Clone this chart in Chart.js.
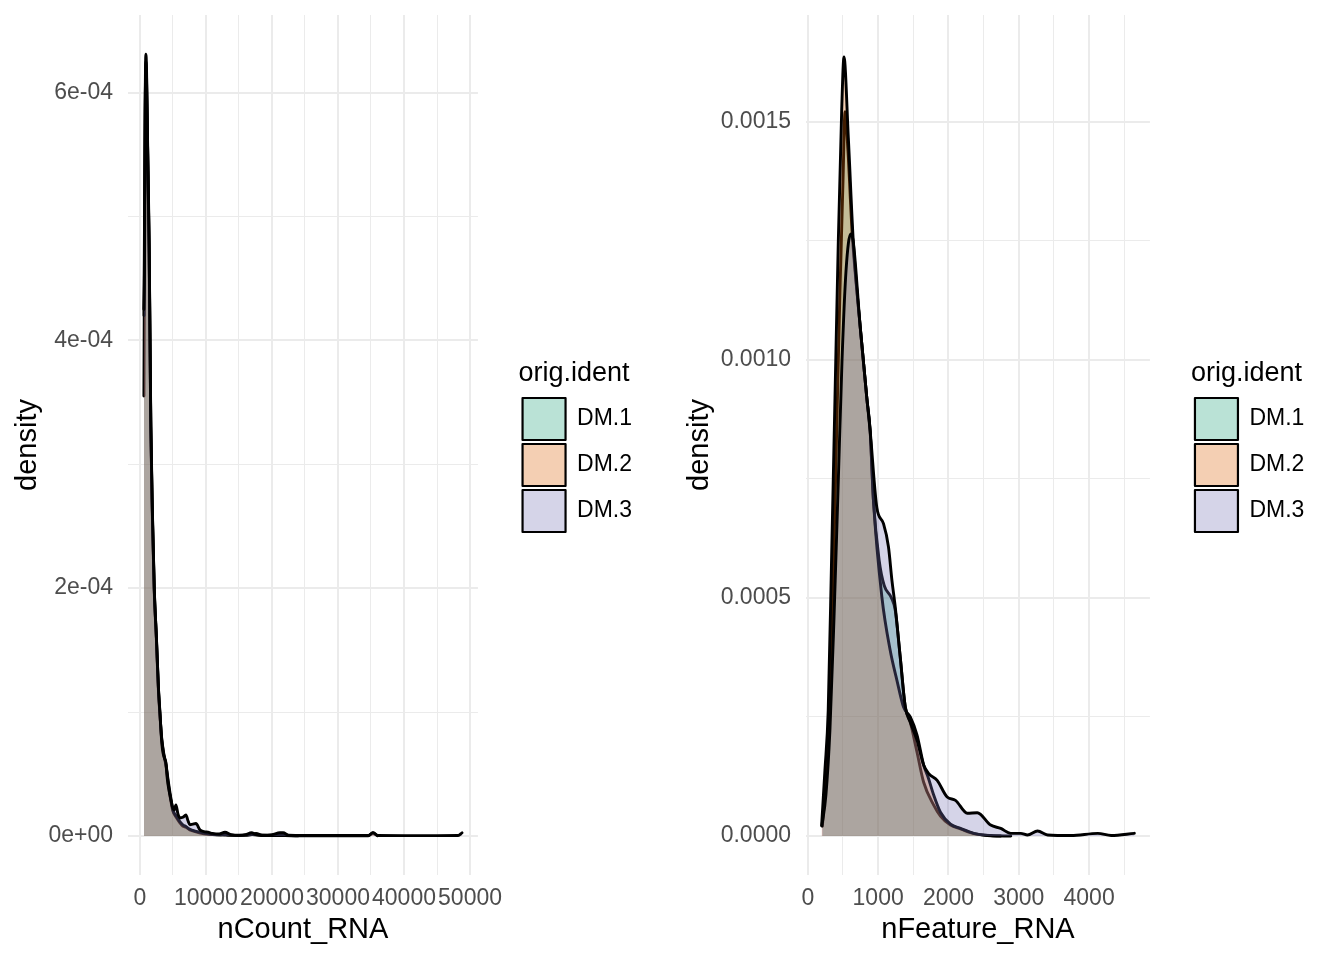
<!DOCTYPE html>
<html><head><meta charset="utf-8">
<script src="https://cdn.jsdelivr.net/npm/chart.js@4.4.1/dist/chart.umd.min.js"></script>
<style>
html,body{margin:0;padding:0;background:#fff;}
#wrap{display:flex;width:1344px;height:960px;}
canvas{display:block;}
</style></head><body>
<div id="wrap"><canvas id="c1" width="672" height="960"></canvas><canvas id="c2" width="672" height="960"></canvas></div>
<script>
const groups = ['DM.1', 'DM.2', 'DM.3'];
const fillColors = ['rgba(27,158,119,0.3)', 'rgba(217,95,2,0.3)', 'rgba(117,112,179,0.3)'];

// nCount_RNA densities
const countX_DM1 = [606, 700, 800, 900, 1000, 1150, 1400, 1650, 1900, 2170, 2500, 2800, 3030, 3300, 3600, 3940, 4300, 4700, 5000, 5500, 6000, 6500, 7000, 7500, 8000, 9000, 10000, 11000, 12000, 13000, 14000, 15000, 16500, 17600, 18500, 20000, 21200, 22500, 24000];
const countY_DM1 = [3.55e-4, 4.8e-4, 5.9e-4, 6.31e-4, 6.2e-4, 5.65e-4, 4.8e-4, 3.3e-4, 2.55e-4, 1.98e-4, 1.58e-4, 1.18e-4, 0.98e-4, 0.78e-4, 0.66e-4, 0.57e-4, 0.42e-4, 0.28e-4, 0.2e-4, 0.15e-4, 0.11e-4, 0.08e-4, 0.07e-4, 0.05e-4, 0.04e-4, 0.025e-4, 0.015e-4, 0.01e-4, 0.008e-4, 0.012e-4, 0.006e-4, 0.004e-4, 0.01e-4, 0.02e-4, 0.005e-4, 0.004e-4, 0.02e-4, 0.004e-4, 0.001e-4];
const countX_DM2 = [620, 700, 800, 900, 1000, 1150, 1400, 1650, 1900, 2170, 2500, 2800, 3030, 3300, 3600, 3940, 4300, 4700, 5000, 5500, 6000, 6500, 7000, 7500, 8000, 9000, 10000, 11000, 12000, 13000, 14500, 16000, 17000, 18500, 20000, 22000, 24000, 28000, 34600, 35300, 36000];
const countY_DM2 = [4.2e-4, 5.0e-4, 5.85e-4, 6.2e-4, 6.1e-4, 5.6e-4, 4.7e-4, 3.3e-4, 2.58e-4, 2.0e-4, 1.6e-4, 1.2e-4, 0.99e-4, 0.79e-4, 0.67e-4, 0.58e-4, 0.44e-4, 0.3e-4, 0.21e-4, 0.16e-4, 0.12e-4, 0.09e-4, 0.075e-4, 0.055e-4, 0.045e-4, 0.03e-4, 0.02e-4, 0.012e-4, 0.008e-4, 0.006e-4, 0.004e-4, 0.004e-4, 0.01e-4, 0.003e-4, 0.002e-4, 0.002e-4, 0.001e-4, 0.001e-4, 0.001e-4, 0.025e-4, 0.001e-4];
const countX_DM3 = [600, 700, 800, 900, 1000, 1150, 1400, 1650, 1900, 2170, 2500, 2800, 3030, 3250, 3440, 3700, 3940, 4150, 4400, 4700, 4955, 5200, 5455, 5750, 6060, 6500, 6970, 7300, 7575, 8000, 8485, 9090, 9700, 10300, 11000, 12000, 12880, 13800, 15000, 16000, 16900, 17600, 18500, 20000, 21200, 21700, 22500, 25000, 30000, 34600, 35300, 36000, 40000, 45000, 48200, 48790];
const countY_DM3 = [4.25e-4, 4.6e-4, 5.8e-4, 6.25e-4, 6.15e-4, 5.6e-4, 4.75e-4, 3.35e-4, 2.6e-4, 2.0e-4, 1.6e-4, 1.2e-4, 1.0e-4, 0.8e-4, 0.69e-4, 0.63e-4, 0.59e-4, 0.46e-4, 0.37e-4, 0.29e-4, 0.23e-4, 0.21e-4, 0.25e-4, 0.18e-4, 0.145e-4, 0.15e-4, 0.17e-4, 0.12e-4, 0.09e-4, 0.095e-4, 0.10e-4, 0.05e-4, 0.035e-4, 0.03e-4, 0.02e-4, 0.015e-4, 0.03e-4, 0.01e-4, 0.005e-4, 0.01e-4, 0.025e-4, 0.01e-4, 0.005e-4, 0.01e-4, 0.025e-4, 0.025e-4, 0.005e-4, 0.003e-4, 0.003e-4, 0.003e-4, 0.025e-4, 0.003e-4, 0.002e-4, 0.002e-4, 0.003e-4, 0.025e-4];

// nFeature_RNA densities
const featX_DM1 = [207, 257, 307, 357, 407, 457, 500, 529, 571, 629, 743, 839, 886, 933, 1014, 1086, 1186, 1243, 1314, 1386, 1457, 1553, 1647, 1790, 1886, 2029, 2171, 2361, 2600, 2886];
const featY_DM1 = [0.21e-4, 1.17e-4, 2.43e-4, 5.16e-4, 8.30e-4, 11.45e-4, 13.75e-4, 15.21e-4, 14.38e-4, 12.70e-4, 10.72e-4, 9.19e-4, 8.51e-4, 7.04e-4, 5.79e-4, 5.26e-4, 5.01e-4, 4.74e-4, 3.75e-4, 2.71e-4, 2.39e-4, 1.76e-4, 1.13e-4, 0.65e-4, 0.42e-4, 0.23e-4, 0.15e-4, 0.052e-4, 0.01e-4, 0];
const featX_DM2 = [196, 243, 290, 339, 386, 433, 481, 514, 576, 647, 743, 839, 886, 933, 1053, 1171, 1267, 1361, 1457, 1553, 1647, 1714, 1790, 1886, 2029, 2171, 2361, 2553, 2743];
const featY_DM2 = [0.22e-4, 1.38e-4, 2.64e-4, 5.91e-4, 9.19e-4, 12.47e-4, 15.21e-4, 16.36e-4, 14.66e-4, 12.47e-4, 10.72e-4, 9.19e-4, 8.51e-4, 7.04e-4, 5.02e-4, 3.90e-4, 3.27e-4, 2.71e-4, 2.50e-4, 2.12e-4, 1.49e-4, 1.22e-4, 0.86e-4, 0.50e-4, 0.25e-4, 0.16e-4, 0.057e-4, 0.01e-4, 0];
const featX_DM3 = [200, 257, 314, 371, 429, 486, 543, 610, 647, 743, 839, 886, 981, 1076, 1147, 1196, 1243, 1314, 1386, 1457, 1553, 1647, 1719, 1839, 1981, 2100, 2267, 2410, 2600, 2743, 2886, 3029, 3124, 3267, 3410, 3743, 4124, 4314, 4643];
const featY_DM3 = [0.21e-4, 0.86e-4, 2.22e-4, 4.53e-4, 7.25e-4, 9.98e-4, 11.87e-4, 12.64e-4, 12.47e-4, 10.72e-4, 9.19e-4, 8.51e-4, 6.90e-4, 6.56e-4, 6.07e-4, 5.37e-4, 4.81e-4, 3.76e-4, 2.71e-4, 2.39e-4, 2.01e-4, 1.49e-4, 1.31e-4, 1.17e-4, 0.82e-4, 0.75e-4, 0.48e-4, 0.49e-4, 0.23e-4, 0.16e-4, 0.057e-4, 0.057e-4, 0.021e-4, 0.105e-4, 0.021e-4, 0.01e-4, 0.057e-4, 0.01e-4, 0.057e-4];

// ticks
const countXTicks = [0, 5000, 10000, 15000, 20000, 25000, 30000, 35000, 40000, 45000, 50000];
const countXLabels = ['0', '', '10000', '', '20000', '', '30000', '', '40000', '', '50000'];
const countYTicks = [0, 1e-4, 2e-4, 3e-4, 4e-4, 5e-4, 6e-4];
const countYLabels = ['0e+00', '', '2e-04', '', '4e-04', '', '6e-04'];
const featXTicks = [0, 500, 1000, 1500, 2000, 2500, 3000, 3500, 4000, 4500];
const featXLabels = ['0', '', '1000', '', '2000', '', '3000', '', '4000', ''];
const featYTicks = [0, 0.00025, 0.0005, 0.00075, 0.001, 0.00125, 0.0015];
const featYLabels = ['0.0000', '', '0.0005', '', '0.0010', '', '0.0015'];

const FAMILY = "'Liberation Sans', Arial, Helvetica, sans-serif";
Chart.defaults.font.family = FAMILY;

function gridOpts(labels) {
  return {
    color: '#EBEBEB',
    drawTicks: false,
    lineWidth: (c) => (c.tick && labels[c.index] !== '') ? 2 : 1
  };
}

function makeChart(id, cfg) {
  const datasets = groups.map((g, i) => ({
    label: g,
    data: cfg.xs[i].map((x, j) => ({x: x, y: cfg.ys[i][j]})),
    xAxisID: 'x', yAxisID: 'y',
    borderColor: '#000000', borderWidth: 2.9,
    backgroundColor: fillColors[i],
    fill: 'origin', pointRadius: 0, pointHoverRadius: 0,
    cubicInterpolationMode: 'monotone',
    borderJoinStyle: 'round', borderCapStyle: 'round',
    order: groups.length - i
  }));
  return new Chart(document.getElementById(id), {
    type: 'line',
    data: {datasets},
    options: {
      responsive: false, animation: false, devicePixelRatio: 1,
      layout: {autoPadding: false, padding: {top: 15, bottom: 0, left: 0, right: cfg.padRight}},
      plugins: {
        tooltip: {enabled: false},
        legend: {
          position: 'right', align: 'start', reverse: true, maxWidth: 300,
          title: {display: true, text: 'orig.ident', position: 'start', color: '#000',
                  font: {size: 27, family: FAMILY}, padding: {top: 345, bottom: 1.6}},
          labels: {boxWidth: 43, boxHeight: 42, padding: 4, color: '#000',
                   font: {size: 23, family: FAMILY},
                   generateLabels: (chart) => Chart.defaults.plugins.legend.labels.generateLabels(chart)
                     .map(l => Object.assign({}, l, {lineWidth: 2.2}))}
        }
      },
      scales: {
        x: {
          type: 'linear', position: 'bottom', min: cfg.xMin, max: cfg.xMax,
          afterBuildTicks: (s) => { s.ticks = cfg.xTicks.map(v => ({value: v})); },
          afterFit: (s) => { s.height = 85; s.paddingLeft = 0; s.paddingRight = 0; },
          grid: gridOpts(cfg.xLabels),
          border: {display: false},
          ticks: {autoSkip: false, maxRotation: 0, minRotation: 0, padding: 10, color: '#4D4D4D',
                  font: {size: 23, family: FAMILY}, callback: (v, i) => cfg.xLabels[i]},
          title: {display: true, text: cfg.xTitle, color: '#000', font: {size: 29, family: FAMILY},
                  padding: {top: 0, bottom: 12.6}}
        },
        y: {
          type: 'linear', position: 'left', min: cfg.yMin, max: cfg.yMax,
          afterBuildTicks: (s) => { s.ticks = cfg.yTicks.map(v => ({value: v})); },
          afterFit: (s) => { s.width = cfg.left; s.paddingTop = 0; s.paddingBottom = 0; },
          grid: gridOpts(cfg.yLabels),
          border: {display: false},
          ticks: {autoSkip: false, padding: 15, color: '#4D4D4D',
                  font: {size: 23, family: FAMILY}, callback: (v, i) => cfg.yLabels[i]},
          title: {display: true, text: 'density', color: '#000', font: {size: 29, family: FAMILY},
                  padding: {top: 10.6, bottom: 0}}
        },
        yPad: {
          type: 'linear', position: 'right', display: true,
          grid: {display: false, drawTicks: false}, border: {display: false},
          ticks: {display: false},
          afterFit: (s) => { s.width = cfg.gap; s.paddingTop = 0; s.paddingBottom = 0; }
        }
      }
    }
  });
}

makeChart('c1', {
  xs: [countX_DM1, countX_DM2, countX_DM3], ys: [countY_DM1, countY_DM2, countY_DM3],
  xTicks: countXTicks, xLabels: countXLabels, yTicks: countYTicks, yLabels: countYLabels,
  xMin: -1803, xMax: 51199, yMin: -3.155e-5, yMax: 6.626e-4,
  xTitle: 'nCount_RNA', left: 128, gap: 40.6, padRight: 30
});
makeChart('c2', {
  xs: [featX_DM1, featX_DM2, featX_DM3], ys: [featY_DM1, featY_DM2, featY_DM3],
  xTicks: featXTicks, xLabels: featXLabels, yTicks: featYTicks, yLabels: featYLabels,
  xMin: -26, xMax: 4865, yMin: -8.18e-5, yMax: 0.001724,
  xTitle: 'nFeature_RNA', left: 134, gap: 41, padRight: 29.6
});
</script>
</body></html>
